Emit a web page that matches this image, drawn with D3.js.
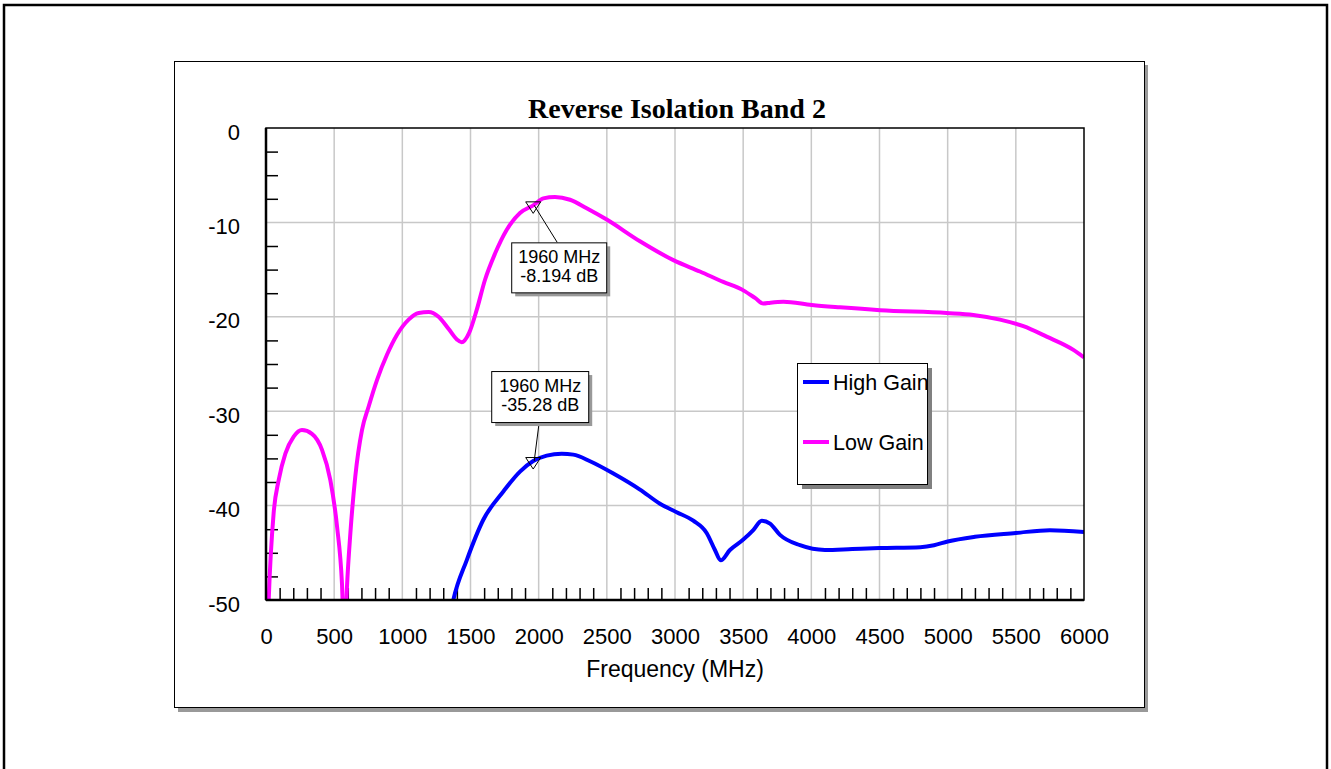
<!DOCTYPE html>
<html>
<head>
<meta charset="utf-8">
<script src="https://cdn.jsdelivr.net/npm/d3@7"></script>
<style>
    body { margin: 0; background: #fff; }
    text { font-family: "Liberation Sans", Arial, sans-serif; }
</style>
</head>
<body>
<div id="graphic"></div>
<script>
// Dati (MHz, dB)
var lowGain = [[0, -60], [20, -50], [56, -40.8], [93, -37.3], [142, -34.5], [203, -32.7], [264, -32.0],
    [337, -32.4], [411, -34.1], [472, -37.3], [521, -42.2], [557, -48.2], [576, -55], [594, -48.6],
    [619, -42.9], [655, -36.9], [704, -32.0], [753, -29.5], [814, -26.7], [888, -24.0], [961, -21.9],
    [1046, -20.3], [1120, -19.6], [1193, -19.5], [1266, -20.0], [1340, -21.3], [1400, -22.4],
    [1435, -22.7], [1490, -21.7], [1545, -19.3], [1606, -16.1], [1680, -13.3], [1765, -10.8],
    [1863, -9.0], [1960, -8.194], [2034, -7.45], [2120, -7.3], [2230, -7.6], [2352, -8.5],
    [2499, -9.7], [2743, -12.0], [2988, -14.0], [3183, -15.2], [3354, -16.3], [3501, -17.2],
    [3587, -18.0], [3648, -18.6], [3700, -18.5], [3795, -18.4], [4003, -18.75], [4210, -19.0],
    [4504, -19.3], [4993, -19.6], [5188, -19.8], [5384, -20.3], [5555, -21.0], [5726, -22.1],
    [5922, -23.5], [6000, -24.3]];

var highGain = [[1300, -56], [1374, -50], [1472, -45.8], [1594, -41.5], [1741, -38.5], [1863, -36.4],
    [1960, -35.28], [2059, -34.7], [2169, -34.5], [2254, -34.6], [2377, -35.3], [2548, -36.6],
    [2743, -38.3], [2890, -39.8], [3012, -40.7], [3134, -41.6], [3232, -42.9], [3293, -44.7],
    [3335, -45.8], [3403, -44.7], [3501, -43.6], [3574, -42.6], [3636, -41.6], [3697, -41.9],
    [3770, -43.1], [3917, -44.2], [4100, -44.7], [4300, -44.6], [4500, -44.5], [4800, -44.4],
    [4900, -44.2], [5000, -43.8], [5200, -43.3], [5500, -42.9], [5750, -42.6], [6000, -42.8]];

var xTicks = [0, 500, 1000, 1500, 2000, 2500, 3000, 3500, 4000, 4500, 5000, 5500, 6000];
var yTicks = [0, -10, -20, -30, -40, -50];
var seriesNames = ["High Gain", "Low Gain"];
var seriesColors = ["#0000ff", "#ff00ff"];
var markerFreq = [1960, 1960];
var markerDb = [-8.194, -35.28];
var markerLabels = [["1960 MHz", "-8.194 dB"], ["1960 MHz", "-35.28 dB"]];

// Variabili
var W = 1331, H = 769;
var margin = {top: 128, left: 266};
var w = 818, h = 472;

var svg = d3.select('#graphic')
    .append('svg')
    .attr('width', W)
    .attr('height', H);

// cornice esterna
svg.append('rect')
    .attr('x', 4).attr('y', 5)
    .attr('width', 1323).attr('height', 820)
    .attr('fill', 'none')
    .attr('stroke', 'black')
    .attr('stroke-width', 2.5);

// riquadro del grafico con ombra
svg.append('rect')
    .attr('x', 178).attr('y', 65)
    .attr('width', 970).attr('height', 647)
    .attr('fill', '#999');
svg.append('rect')
    .attr('x', 174.5).attr('y', 61.5)
    .attr('width', 970).attr('height', 646)
    .attr('fill', 'white')
    .attr('stroke', 'black')
    .attr('stroke-width', 1);

var g = svg.append('g')
    .attr('transform', 'translate(' + margin.left + ',' + margin.top + ')');

var xScale = d3.scaleLinear().domain([0, 6000]).range([0, w]);
var yScale = d3.scaleLinear().domain([-50, 0]).range([h, 0]);

// griglia
g.selectAll('.vgrid')
    .data(xTicks.slice(1, -1))
    .enter().append('line')
    .attr('x1', function (d) { return xScale(d); })
    .attr('x2', function (d) { return xScale(d); })
    .attr('y1', 0).attr('y2', h)
    .attr('stroke', '#c8c8c8').attr('stroke-width', 1.5);
g.selectAll('.hgrid')
    .data(yTicks.slice(1, -1))
    .enter().append('line')
    .attr('y1', function (d) { return yScale(d); })
    .attr('y2', function (d) { return yScale(d); })
    .attr('x1', 0).attr('x2', w)
    .attr('stroke', '#c8c8c8').attr('stroke-width', 1.5);

// tacche minori
var xMinor = d3.range(100, 6000, 100).filter(function (d) { return d % 500 !== 0; });
var yMinor = d3.range(-47.5, 0, 2.5).filter(function (d) { return d % 10 !== 0; });
g.append('g')
    .attr('transform', 'translate(0,' + h + ')')
    .call(d3.axisTop(xScale).tickValues(xMinor).tickSize(12).tickFormat(''))
    .call(function (s) {
        s.select('.domain').remove();
        s.selectAll('line').attr('stroke-width', 1.5);
    });
g.append('g')
    .call(d3.axisRight(yScale).tickValues(yMinor).tickSize(12).tickFormat(''))
    .call(function (s) {
        s.select('.domain').remove();
        s.selectAll('line').attr('stroke-width', 1.5);
    });

// curve
var line = d3.line()
    .x(function (d) { return xScale(d[0]); })
    .y(function (d) { return yScale(d[1]); })
    .curve(d3.curveMonotoneX);

g.append('clipPath').attr('id', 'clip')
    .append('rect').attr('width', w).attr('height', h);

var series = [highGain, lowGain];
series.forEach(function (data, i) {
    g.append('path')
        .datum(data)
        .attr('clip-path', 'url(#clip)')
        .attr('d', line)
        .attr('fill', 'none')
        .attr('stroke', seriesColors[i])
        .attr('stroke-width', 4)
        .attr('stroke-linejoin', 'round');
});

// bordo area del grafico
g.append('rect')
    .attr('width', w).attr('height', h)
    .attr('fill', 'none')
    .attr('stroke', 'black').attr('stroke-width', 1.5);
g.append('line').attr('x1', 0).attr('x2', 0).attr('y1', 0).attr('y2', h)
    .attr('stroke', 'black').attr('stroke-width', 2.5);
g.append('line').attr('x1', 0).attr('x2', w).attr('y1', h).attr('y2', h)
    .attr('stroke', 'black').attr('stroke-width', 2.5);

// etichette assi
var fmt = function (d) { return String(d); };
var xAxis = d3.axisBottom(xScale).tickValues(xTicks).tickSize(0).tickPadding(28).tickFormat(fmt);
g.append('g')
    .attr('transform', 'translate(0,' + h + ')')
    .call(xAxis)
    .call(function (s) {
        s.select('.domain').remove();
        s.selectAll('text').attr('font-size', '22px').attr('fill', 'black')
            .style('font-family', '"Liberation Sans", Arial, sans-serif');
    });
var yAxis = d3.axisLeft(yScale).tickValues(yTicks).tickSize(0).tickPadding(26).tickFormat(fmt);
g.append('g')
    .attr('transform', 'translate(0,4)')
    .call(yAxis)
    .call(function (s) {
        s.select('.domain').remove();
        s.selectAll('text').attr('font-size', '22px').attr('fill', 'black')
            .style('font-family', '"Liberation Sans", Arial, sans-serif');
    });

g.append('text')
    .attr('x', w / 2).attr('y', h + 77)
    .attr('text-anchor', 'middle')
    .attr('font-size', '23px')
    .text('Frequency (MHz)');

svg.append('text')
    .attr('x', 677).attr('y', 118)
    .attr('text-anchor', 'middle')
    .attr('font-size', '28px')
    .attr('font-weight', 'bold')
    .style('font-family', '"Liberation Serif", "Times New Roman", serif')
    .text('Reverse Isolation Band 2');

// marker con etichetta
var boxOff = [{x: -22, y: 37, w: 95, h: 50, lx: 24, ly: 37},
    {x: -42, y: -90, w: 97, h: 51, lx: 6, ly: -39}];
markerFreq.forEach(function (f, i) {
    var px = xScale(f), py = yScale(markerDb[i]);
    var b = boxOff[i];
    g.append('line')
        .attr('x1', px + 1).attr('y1', py)
        .attr('x2', px + b.lx).attr('y2', py + b.ly)
        .attr('stroke', 'black').attr('stroke-width', 1);
    g.append('path')
        .attr('d', 'M' + (px - 7.5) + ',' + (py - 3.5) + 'L' + (px + 7.5) + ',' + (py - 3.5) + 'L' + px + ',' + (py + 8) + 'Z')
        .attr('fill', 'none')
        .attr('stroke', 'black').attr('stroke-width', 1);
    g.append('rect')
        .attr('x', px + b.x + 4).attr('y', py + b.y + 4)
        .attr('width', b.w).attr('height', b.h)
        .attr('fill', '#999');
    g.append('rect')
        .attr('x', px + b.x + 0.5).attr('y', py + b.y + 0.5)
        .attr('width', b.w).attr('height', b.h)
        .attr('fill', 'white')
        .attr('stroke', 'black').attr('stroke-width', 1);
    markerLabels[i].forEach(function (t, j) {
        g.append('text')
            .attr('x', px + b.x + b.w / 2 + 0.5)
            .attr('y', py + b.y + 21 + j * 19)
            .attr('text-anchor', 'middle')
            .attr('font-size', '18px')
            .text(t);
    });
});

// legenda
var legend = svg.append('g').attr('transform', 'translate(797,363)');
legend.append('rect')
    .attr('x', 5).attr('y', 5).attr('width', 130).attr('height', 121)
    .attr('fill', '#808080');
legend.append('rect')
    .attr('x', 0.5).attr('y', 0.5).attr('width', 130).attr('height', 121)
    .attr('fill', 'white')
    .attr('stroke', 'black').attr('stroke-width', 1);
seriesNames.forEach(function (name, i) {
    var ly = 19 + i * 60;
    legend.append('line')
        .attr('x1', 6).attr('x2', 32)
        .attr('y1', ly).attr('y2', ly)
        .attr('stroke', seriesColors[i]).attr('stroke-width', 4);
    legend.append('text')
        .attr('x', 36).attr('y', ly + 8)
        .attr('font-size', '21.5px')
        .text(name);
});
</script>
</body>
</html>
